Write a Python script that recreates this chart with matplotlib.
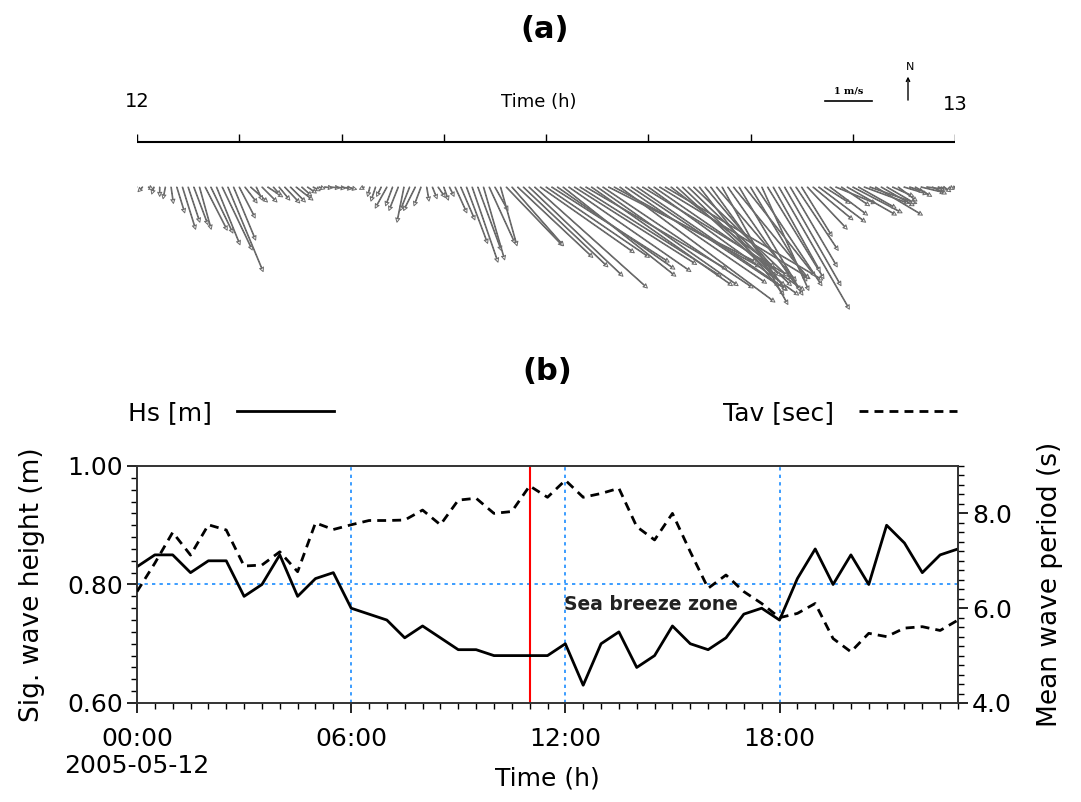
import numpy as np
import matplotlib.pyplot as plt
from matplotlib.ticker import MultipleLocator

W, H = 1081, 802

# ---- (a) wind sticks, 10-minute values over 2005-05-12 (u east, v north, m/s)
wind_t = np.arange(0, 24.01, 1 / 6)
wind_u = [-0.15, -0.10, 0.10, -0.05, 0.00, -0.05, 0.05, 0.17, 0.28, 0.25,
          0.30, 0.25, 0.47, 0.47, 0.50, 0.64, 0.75, 0.47, 0.34, 0.26,
          0.36, 0.13, 0.32, 0.32, 0.15, 0.23, 0.32, 0.32, 0.36, 0.21,
          0.19, 0.15, 0.13, 0.17, 0.20, 0.20, 0.22, 0.20, np.nan, np.nan,
          -0.10, -0.05, -0.10, -0.10, -0.25, -0.15, -0.20, -0.15, -0.20, -0.25,
          -0.15, 0.05, 0.10, 0.15, 0.10, 0.10, 0.25, 0.30, 0.45, 0.55,
          0.50, 0.45, 0.55, 0.28, 0.35, 1.20, 1.10, 1.60, 1.80, 2.00,
          2.40, 2.00, 2.20, 2.50, 2.50, 2.40, 2.60, 2.60, 3.00, 3.00,
          3.00, 3.00, 3.20, 3.15, 3.10, 3.30, 3.00, 3.15, 3.20, 3.20,
          3.20, 3.20, 3.20, 3.35, 2.20, 2.30, 2.00, 2.20, 2.00, 1.80,
          1.60, 1.60, 1.70, 1.40, 1.60, 1.60, 1.30, 1.50, 1.20, 1.40,
          1.00, 1.20, 1.00, 1.50, 1.20, 1.00, 0.90, 0.65, 0.85, 0.85,
          1.00, 0.55, 0.80, 0.85, 0.60, 1.05, 1.05, 0.80, 0.95, 1.00,
          1.00, 0.70, 0.60, 0.45, 0.40, 0.50, 0.30, 0.35, 0.50, 0.40,
          0.30, 0.20, 0.15, 0.10, -0.05]
wind_v = [-0.05, -0.10, -0.05, -0.15, -0.20, -0.25, -0.35, -0.55, -0.90, -0.75,
          -0.80, -0.90, -0.92, -0.98, -1.23, -1.34, -1.80, -1.13, -0.66, -0.34,
          -0.32, -0.28, -0.32, -0.21, -0.17, -0.28, -0.34, -0.32, -0.28, -0.19,
          -0.13, -0.08, -0.04, -0.02, -0.02, -0.03, -0.04, -0.05, np.nan, np.nan,
          -0.05, -0.20, -0.30, -0.20, -0.45, -0.40, -0.50, -0.75, -0.50, -0.50,
          -0.40, -0.30, -0.25, -0.22, -0.28, -0.20, -0.55, -0.70, -1.20, -1.60,
          -1.35, -1.55, -1.20, -0.50, -1.25, -1.25, -1.25, -1.50, -1.70, -1.90,
          -2.15, -1.40, -1.50, -1.60, -1.75, -1.90, -1.80, -1.65, -1.90, -1.75,
          -2.10, -2.10, -2.15, -1.60, -1.70, -2.45, -2.05, -2.10, -2.20, -1.95,
          -2.30, -2.20, -1.95, -1.98, -1.70, -2.10, -1.90, -2.10, -1.90, -2.30,
          -1.90, -2.20, -2.00, -2.50, -2.30, -1.95, -2.20, -1.90, -2.00, -2.10,
          -2.20, -1.95, -1.80, -2.60, -2.10, -1.70, -1.35, -1.05, -0.90, -0.70,
          -0.75, -0.35, -0.60, -0.35, -0.40, -0.60, -0.55, -0.45, -0.35, -0.35,
          -0.60, -0.40, -0.35, -0.20, -0.30, -0.15, -0.10, -0.20, -0.12, -0.05,
          -0.15, -0.05, -0.10, -0.05, -0.05]

# ---- (b) half-hourly wave parameters
hours = np.arange(0, 23.01, 0.5)
hs = [0.83, 0.85, 0.85, 0.82, 0.84, 0.84, 0.78, 0.80, 0.85, 0.78,
      0.81, 0.82, 0.76, 0.75, 0.74, 0.71, 0.73, 0.71, 0.69, 0.69,
      0.68, 0.68, 0.68, 0.68, 0.70, 0.63, 0.70, 0.72, 0.66, 0.68,
      0.73, 0.70, 0.69, 0.71, 0.75, 0.76, 0.74, 0.81, 0.86, 0.80,
      0.85, 0.80, 0.90, 0.87, 0.82, 0.85, 0.86]
tav = [6.35, 6.95, 7.60, 7.12, 7.76, 7.65, 6.89, 6.91, 7.19, 6.77,
       7.80, 7.66, 7.76, 7.85, 7.85, 7.86, 8.07, 7.76, 8.28, 8.32,
       8.00, 8.04, 8.58, 8.34, 8.70, 8.34, 8.42, 8.53, 7.72, 7.44,
       8.00, 7.19, 6.42, 6.70, 6.35, 6.10, 5.80, 5.89, 6.10, 5.36,
       5.08, 5.47, 5.40, 5.58, 5.61, 5.53, 5.75]
breeze_start = 11.0

fig = plt.figure(figsize=(W / 100, H / 100), dpi=100)

# ------------------------------------------------------------------ panel (a)
ax_a = fig.add_axes([137 / W, 1 - 330 / H, 818 / W, 280 / H])
ax_a.set_xlim(0, 24)
ax_a.set_ylim(0, 1)
ax_a.axis('off')

px_per_ms = 47.0          # length of 1 m/s on the page
base_y = (330 - 187) / 280
ax_a.quiver(wind_t, np.full(len(wind_t), base_y), wind_u, wind_v,
            angles='uv', scale_units='inches', scale=100 / px_per_ms,
            units='inches', width=0.007, headwidth=6, headlength=6,
            headaxislength=5, facecolor='white', edgecolor='#6a6a6a',
            linewidth=0.7, zorder=2)

line_y = (330 - 142) / 280
ax_a.plot([0, 24], [line_y, line_y], color='black', lw=1.5)
ax_a.vlines(np.arange(0, 25, 3), line_y, line_y + 0.03, color='black', lw=1)
ax_a.text(0, 0.815, '12', ha='center', va='center', fontsize=14)
ax_a.text(24, 0.805, '13', ha='center', va='center', fontsize=14)
ax_a.text(11.8, 0.815, 'Time (h)', ha='center', va='center', fontsize=13)

# 1 m/s scale bar and north arrow
h_per_px = 24 / 818
bar_x0 = (825 - 137) * h_per_px
ax_a.plot([bar_x0, bar_x0 + px_per_ms * h_per_px], [0.818, 0.818],
          color='black', lw=1.2)
ax_a.text(bar_x0 + px_per_ms * h_per_px / 2, 0.855, '1 m/s', ha='center',
          va='center', fontsize=7, family='serif', weight='bold')
north_x = (908 - 137) * h_per_px
ax_a.annotate('', xy=(north_x, 0.905), xytext=(north_x, 0.821),
              arrowprops=dict(arrowstyle='->', color='black', lw=1,
                              shrinkA=0, shrinkB=0, mutation_scale=6))
ax_a.text(north_x + 0.05, 0.94, 'N', ha='center', va='center', fontsize=8)

fig.text(545 / W, 1 - 30 / H, '(a)', ha='center', va='center',
         fontsize=22, weight='bold')
fig.text(547 / W, 1 - 372 / H, '(b)', ha='center', va='center',
         fontsize=22, weight='bold')

# ------------------------------------------------------------------ panel (b)
ax = fig.add_axes([137 / W, 1 - 703 / H, 821 / W, 237 / H])
grid_kw = dict(color='#1a8cff', lw=1.2, ls=(0, (2, 2.5)), zorder=1)
for t in [6, 12, 18]:
    ax.axvline(t, **grid_kw)
ax.axhline(0.80, **grid_kw)
ax.axvline(breeze_start, color='red', lw=1.5, zorder=1)

hs_line, = ax.plot(hours, hs, color='black', lw=2, zorder=3)
ax.set_xlim(0, 23)
ax.set_ylim(0.60, 1.00)
ax.set_xticks([0, 6, 12, 18])
ax.set_xticklabels(['00:00\n2005-05-12', '06:00', '12:00', '18:00'])
ax.xaxis.set_minor_locator(MultipleLocator(0.5))
ax.set_yticks([0.60, 0.80, 1.00])
ax.set_yticklabels(['0.60', '0.80', '1.00'])
ax.yaxis.set_minor_locator(MultipleLocator(0.02))
ax.text(11.95, 0.766, 'Sea breeze zone', ha='left', va='center',
        fontsize=13.5, weight='bold', color='#222222', zorder=4)

ax2 = ax.twinx()
tav_line, = ax2.plot(hours, tav, color='black', lw=2,
                     ls=(0, (3.2, 2.2)), zorder=3)
ax2.set_ylim(4.0, 9.0)
ax2.set_yticks([4, 6, 8])
ax2.set_yticklabels(['4.0', '6.0', '8.0'])
ax2.yaxis.set_minor_locator(MultipleLocator(0.2))

for a in (ax, ax2):
    a.tick_params(which='major', direction='out', length=7, width=1.2,
                  labelsize=18, pad=3)
    a.tick_params(which='minor', direction='out', length=4, width=1)
    for s in a.spines.values():
        s.set_color('#333333')
        s.set_linewidth(1.2)
ax.tick_params(axis='x', which='major', pad=10)

ax.set_xlabel('Time (h)', fontsize=18)
ax.xaxis.set_label_coords(0.5, -0.27)
ax.set_ylabel('Sig. wave height (m)', fontsize=19)
ax.yaxis.set_label_coords(-0.112, 0.5)
ax2.set_ylabel('Mean wave period (s)', fontsize=19)
ax2.yaxis.set_label_coords(1.096, 0.5)

leg_kw = dict(frameon=False, markerfirst=False, fontsize=18, borderpad=0,
              borderaxespad=0, handlelength=3.9, handletextpad=1.0,
              loc='center left', bbox_transform=fig.transFigure)
leg1 = ax.legend(handles=[hs_line], labels=['Hs [m]'],
                 bbox_to_anchor=(128 / W, 1 - 413 / H), **leg_kw)
ax.add_artist(leg1)
ax.legend(handles=[tav_line], labels=['Tav [sec]'],
          bbox_to_anchor=(723 / W, 1 - 413 / H), **leg_kw)

plt.savefig('out.png', dpi=100)
